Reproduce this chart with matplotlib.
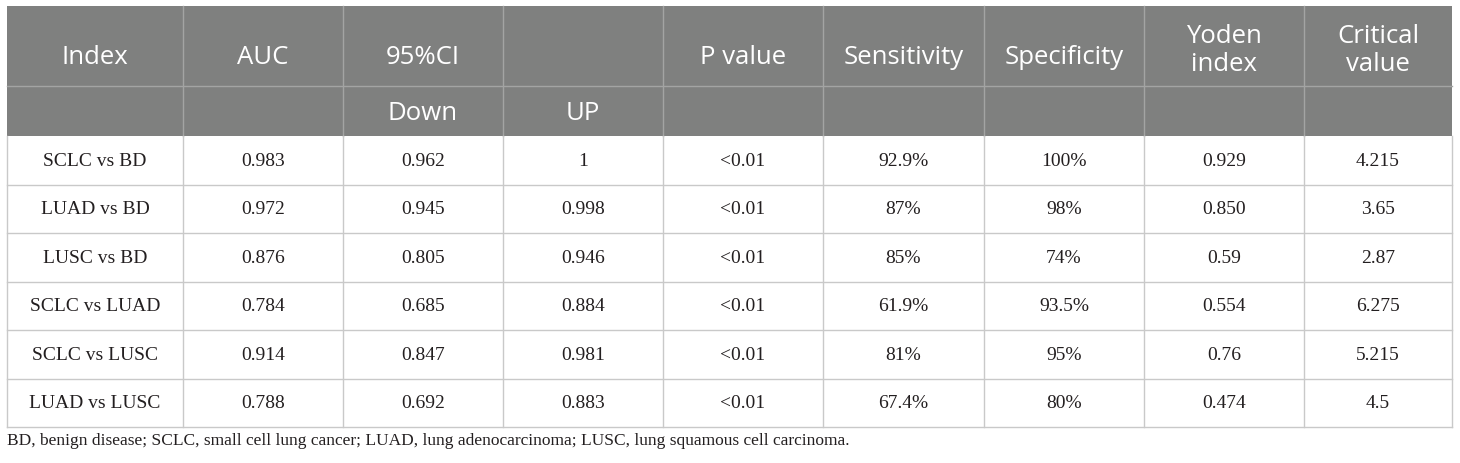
import numpy as np
import matplotlib.pyplot as plt
from matplotlib.patches import Rectangle

# Table content
header_top = ["Index", "AUC", "95%CI", "", "P value", "Sensitivity", "Specificity", "Yoden\nindex", "Critical\nvalue"]
header_sub = ["", "", "Down", "UP", "", "", "", "", ""]

comparisons = ["SCLC vs BD", "LUAD vs BD", "LUSC vs BD", "SCLC vs LUAD", "SCLC vs LUSC", "LUAD vs LUSC"]
auc = ["0.983", "0.972", "0.876", "0.784", "0.914", "0.788"]
ci_down = ["0.962", "0.945", "0.805", "0.685", "0.847", "0.692"]
ci_up = ["1", "0.998", "0.946", "0.884", "0.981", "0.883"]
p_value = ["<0.01", "<0.01", "<0.01", "<0.01", "<0.01", "<0.01"]
sensitivity = ["92.9%", "87%", "85%", "61.9%", "81%", "67.4%"]
specificity = ["100%", "98%", "74%", "93.5%", "95%", "80%"]
yoden = ["0.929", "0.850", "0.59", "0.554", "0.76", "0.474"]
critical = ["4.215", "3.65", "2.87", "6.275", "5.215", "4.5"]

footnote = ("BD, benign disease; SCLC, small cell lung cancer; "
            "LUAD, lung adenocarcinoma; LUSC, lung squamous cell carcinoma.")

rows = list(zip(comparisons, auc, ci_down, ci_up, p_value,
                sensitivity, specificity, yoden, critical))

# layout in pixel units
col_edges = [7, 183, 343, 503, 663, 823, 984, 1144, 1304, 1452]
top = 7
h1_bottom = 87
h2_bottom = 137
row_h = 48.5

head_bg = "#7f807f"
head_line = "#a3a4a3"
body_line = "#c9c9c9"

fig = plt.figure(figsize=(14.6, 4.64), dpi=100)
ax = fig.add_axes([0, 0, 1, 1])
ax.set_xlim(0, 1460)
ax.set_ylim(464, 0)
ax.axis("off")

# header background
ax.add_patch(Rectangle((col_edges[0], top), col_edges[-1] - col_edges[0],
                       h2_bottom - top, facecolor=head_bg, edgecolor="none"))

# header grid lines
for x in col_edges[1:-1]:
    ax.plot([x, x], [top, h2_bottom], color=head_line, lw=1)
ax.plot([col_edges[0], col_edges[-1]], [h1_bottom, h1_bottom], color=head_line, lw=1)

hfont = dict(family=["Open Sans", "DejaVu Sans"], color="white", fontsize=18.5)
for i in range(len(header_top)):
    cx = (col_edges[i] + col_edges[i + 1]) / 2
    lines = header_top[i].split("\n") if header_top[i] else []
    if len(lines) == 1:
        ax.text(cx, 64, lines[0], ha="center", va="baseline", **hfont)
    elif len(lines) == 2:
        ax.text(cx, 43, lines[0], ha="center", va="baseline", **hfont)
        ax.text(cx, 71, lines[1], ha="center", va="baseline", **hfont)
    if header_sub[i]:
        ax.text(cx, 120, header_sub[i], ha="center", va="baseline", **hfont)

# body
n = len(rows)
bottom = h2_bottom + n * row_h
for x in col_edges:
    ax.plot([x, x], [h2_bottom, bottom], color=body_line, lw=1)
for r in range(1, n + 1):
    y = h2_bottom + r * row_h
    ax.plot([col_edges[0], col_edges[-1]], [y, y], color=body_line, lw=1)

for r, row in enumerate(rows):
    cy = h2_bottom + (r + 0.5) * row_h
    for i, val in enumerate(row):
        cx = (col_edges[i] + col_edges[i + 1]) / 2
        ax.text(cx, cy, val, ha="center", va="center", color="#231f20",
                family="Liberation Serif", fontsize=14)

ax.text(col_edges[0], 441, footnote, ha="left", va="center", color="#231f20",
        family="Liberation Serif", fontsize=12.5)

fig.savefig("out.png", dpi=100)
